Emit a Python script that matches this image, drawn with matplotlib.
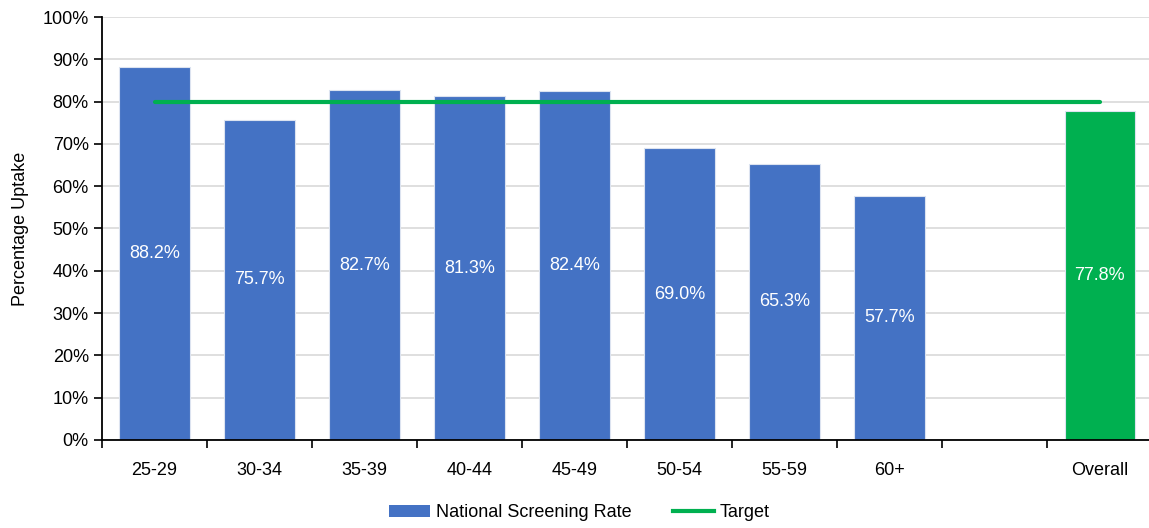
"""
Screening uptake by age group against the national target.
"""

import matplotlib.pyplot as plt
import numpy as np
from matplotlib.lines import Line2D
from matplotlib.patches import Patch

plt.rcParams["font.family"] = ["Liberation Sans", "DejaVu Sans"]

age_groups = ["25-29", "30-34", "35-39", "40-44", "45-49", "50-54", "55-59", "60+", "", "Overall"]
uptake = [88.2, 75.7, 82.7, 81.3, 82.4, 69.0, 65.3, 57.7, np.nan, 77.8]
target = 80.0

blue = "#4472C4"
green = "#00B050"

fig = plt.figure(figsize=(11.49, 5.28), dpi=100)
ax = fig.add_axes([0.0888, 0.1667, 0.914, 0.8011])

x = np.arange(len(age_groups))
colors = [green if g == "Overall" else blue for g in age_groups]
values = np.nan_to_num(uptake, nan=0.0)
ax.bar(x, values, width=0.67, color=colors, edgecolor="#dce3f0", linewidth=0.8, zorder=2)

# Value labels sit in the middle of each bar
for xi, v in zip(x, uptake):
    if np.isnan(v):
        continue
    ax.text(xi, v / 2, f"{v:.1f}%", ha="center", va="center", color="white", fontsize=13, zorder=4)

# Target line runs from the first category to the last
ax.plot([x[0], x[-1]], [target, target], color=green, linewidth=3, zorder=3, solid_capstyle="round")

ax.set_xlim(-0.5, len(age_groups) - 0.5)
ax.set_ylim(0, 100)
ax.set_yticks(np.arange(0, 101, 10))
ax.set_yticklabels([f"{t}%" for t in range(0, 101, 10)], fontsize=13)
ax.set_xticks(x)
ax.set_xticklabels(age_groups, fontsize=13)
ax.set_xticks(np.arange(-0.5, len(age_groups), 1.0), minor=True)
ax.tick_params(axis="x", which="major", length=0, pad=16)
ax.tick_params(axis="x", which="minor", length=6, width=1.2, direction="out")
ax.tick_params(axis="y", length=6, width=1.2, direction="out")

ax.grid(axis="y", color="#d9d9d9", linewidth=1.2, zorder=0)
ax.set_axisbelow(True)
for side in ["top", "right"]:
    ax.spines[side].set_visible(False)
ax.spines["left"].set_linewidth(1.3)
ax.spines["bottom"].set_linewidth(1.3)

ax.set_ylabel("Percentage Uptake", fontsize=13, labelpad=10)

handles = [
    Patch(facecolor=blue, label="National Screening Rate"),
    Line2D([0], [0], color=green, linewidth=3, label="Target"),
]
fig.legend(handles=handles, loc="lower center", bbox_to_anchor=(0.504, -0.018), ncol=2,
           frameon=False, fontsize=13, handlelength=2.3, columnspacing=2.3, handletextpad=0.3)

fig.savefig("out.png", dpi=100)
